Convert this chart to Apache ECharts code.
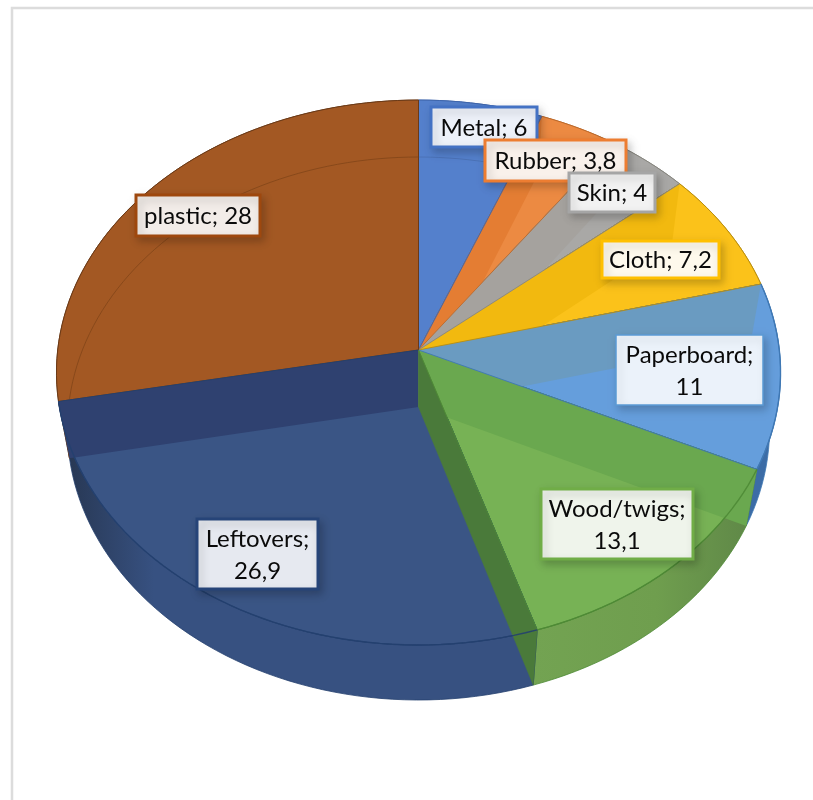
<!DOCTYPE html>
<html><head><meta charset="utf-8">
<style>html,body{margin:0;padding:0;background:#fff}#c{width:813px;height:800px}</style>
<script src="https://cdn.jsdelivr.net/npm/echarts@6/dist/echarts.min.js"></script>
</head><body><div id="c"></div>
<script>
// ---- data ----
const categories = ['Metal','Rubber','Skin','Cloth','Paperboard','Wood/twigs','Leftovers','plastic'];
const values = [6,3.8,4,7.2,11,13.1,26.9,28];
const valueLabels = ['6','3,8','4','7,2','11','13,1','26,9','28'];
const labelBreaks = [false,false,false,false,true,true,true,false];
// ---- styles ----
const topColors  = ['#5480CC','#EC8A42','#A9A8A6','#FBC21A','#659EDC','#77B255','#3A5585','#A35823'];
const wallColors = ['#4F79C8','#E47D33','#A5A29E','#F2B90F','#6A9BC1','#6AA84F','#2F4170','#A35823'];
const rimColors  = ['#3E65A8','#C96A25','#8F8F8F','#D9A40E','#3F6FA8','#6F9E4E','#375181','#8A4A1A'];
const edgeColors = ['#3F66AD','#BC6A2C','#87867F','#B98E10','#3F78B4','#4E8A35','#24406F','#6B3A17'];
const boxBorders = ['#4472C4','#ED7D31','#A5A5A5','#FFC000','#5B9BD5','#70AD47','#264478','#9E480E'];
const boxFills   = ['#EDF1F9','#F9F1EB','#F2F2F2','#FEF9EC','#EBF2FA','#EFF4EB','#E6E9F0','#F2ECE8'];
// label box layout: left, top, right, bottom
const boxes = [[431,107,537,147],[485,140,626,181],[569,173,655,212],[602,241,719,278],
               [616,335,763,405],[541,489,693,559],[197,519,318,589],[136,195,260,236]];
// projection of the tilted disc
const TOP = {cy:350, A:360.8, B:270.6, k:0.0826};
const BOT = {cy:407, A:350,   B:269.8, k:0.0792};
const CX = 418.5, R = 360.8;

let run = 0;
const starts = values.map(v => { const s = run; run += v; return s; });
const ends = values.map((v,i) => starts[i] + v);

function proj(api, c, plane) {
  const p = api.coord([1, c]);
  const u = (p[0]-CX)/R, v = (TOP.cy-p[1])/R, d = 1 + plane.k*v;
  return [CX + plane.A*u/d, plane.cy - plane.B*v/d];
}
function arc(api, a, b, plane) {
  const n = Math.max(2, Math.ceil((b-a)*2)), pts = [];
  for (let i=0;i<=n;i++) pts.push(proj(api, a+(b-a)*i/n, plane));
  return pts;
}
const poly = (points, style, z2) => ({type:'polygon', z2:z2||0, shape:{points}, style});
const pline = (points, stroke, w, opacity) => ({type:'polyline', shape:{points}, style:{fill:null, stroke, lineWidth:w, opacity:opacity==null?1:opacity}});

function layerSeries(render) {
  return {type:'custom', coordinateSystem:'polar', silent:true, animation:false,
    data: values.map((v,i)=>[1, starts[i], ends[i]]), encode:{radius:0, angle:1},
    renderItem:(params, api) => render(params.dataIndex, api)};
}
// outer wall
const rimLayer = (i, api) => {
  const t = arc(api, starts[i], ends[i], TOP), b = arc(api, starts[i], ends[i], BOT).reverse();
  let fill = rimColors[i];
  if (i===6) fill = {type:'linear',x:1,y:0,x2:0,y2:0,colorStops:[{offset:0,color:'#375181'},{offset:.8,color:'#375181'},{offset:1,color:'#26354F'}]};
  if (i===5) fill = {type:'linear',x:0,y:0,x2:1,y2:0,colorStops:[{offset:0,color:'#73A352'},{offset:.55,color:'#6F9E4E'},{offset:1,color:'#5E8647'}]};
  if (i===4) fill = '#3C6CA6';
  return poly(t.concat(b), {fill, stroke:edgeColors[i], lineWidth:.8});
};
// top face
const topLayer = (i, api) => {
  const pts = [[CX,TOP.cy]].concat(arc(api, starts[i], ends[i], TOP));
  return poly(pts, {fill:topColors[i], stroke:edgeColors[i], lineWidth:1, lineJoin:'round'});
};
// far edge of the floor, seen through the top
const backLayer = (i, api) => {
  if (i !== 7 && i !== 0) return null;
  return pline(arc(api, starts[i], ends[i], BOT), i===7?'#85471A':'#4A70B5', 1, .9);
};
// radial walls, seen through the transparent top
const wallLayer = (i, api) => {
  if (i === 7) return null;
  const c = i===6 ? ends[i] : starts[i];
  return poly([[CX,TOP.cy], proj(api,c,TOP), proj(api,c,BOT), [CX,BOT.cy]], {fill:wallColors[i]});
};
const endWallLayer = (i, api) => {
  if (i !== 5) return null;
  const c = ends[i];
  return poly([[CX,TOP.cy], proj(api,c,TOP), proj(api,c,BOT), [CX,BOT.cy]], {fill:'#4A7A3A', stroke:'#4A7A3A', lineWidth:.5});
};
// boundaries and front arc over the walls
const lineLayer = (i, api) => {
  const a = arc(api, starts[i], ends[i], TOP);
  const kids = [];
  if (i>=4 && i<=6) kids.push(pline(a, edgeColors[i], 1.4, .9));
  kids.push(pline([[CX,TOP.cy], proj(api,ends[i],TOP)], edgeColors[i], 1, .9));
  return {type:'group', children:kids};
};
const labelLayer = (i, api) => {
  const [l,t,r,b] = boxes[i];
  const txt = labelBreaks[i] ? categories[i]+';\n'+valueLabels[i] : categories[i]+'; '+valueLabels[i];
  return {type:'group', children:[
    {type:'rect', shape:{x:l,y:t,width:r-l,height:b-t},
     style:{fill:boxFills[i], stroke:boxBorders[i], lineWidth:i===4?1.5:3,
            shadowBlur:8, shadowOffsetX:3, shadowOffsetY:4, shadowColor:'rgba(0,0,0,.2)'}},
    {type:'text', style:{x:(l+r)/2, y:(t+b)/2+1, text:txt, align:'center', verticalAlign:'middle',
            font:'24px Lato, "Open Sans", sans-serif', lineHeight:32, fill:'#0A0A0A'}}
  ]};
};

const chart = echarts.init(document.getElementById('c'), null, {renderer:'canvas', width:813, height:800});
chart.setOption({
  backgroundColor:'#fff', animation:false,
  polar:{center:[CX,TOP.cy], radius:[0,R]},
  radiusAxis:{type:'value', min:0, max:1, show:false},
  angleAxis:{type:'value', min:0, max:100, startAngle:90, clockwise:true, show:false},
  graphic:[{type:'rect', z:-1, shape:{x:12,y:8,width:840,height:840}, style:{fill:'#fff', stroke:'#DCDCDC', lineWidth:2.5}}],
  series:[rimLayer, topLayer, backLayer, wallLayer, endWallLayer, lineLayer, labelLayer].map(layerSeries)
});
</script></body></html>
